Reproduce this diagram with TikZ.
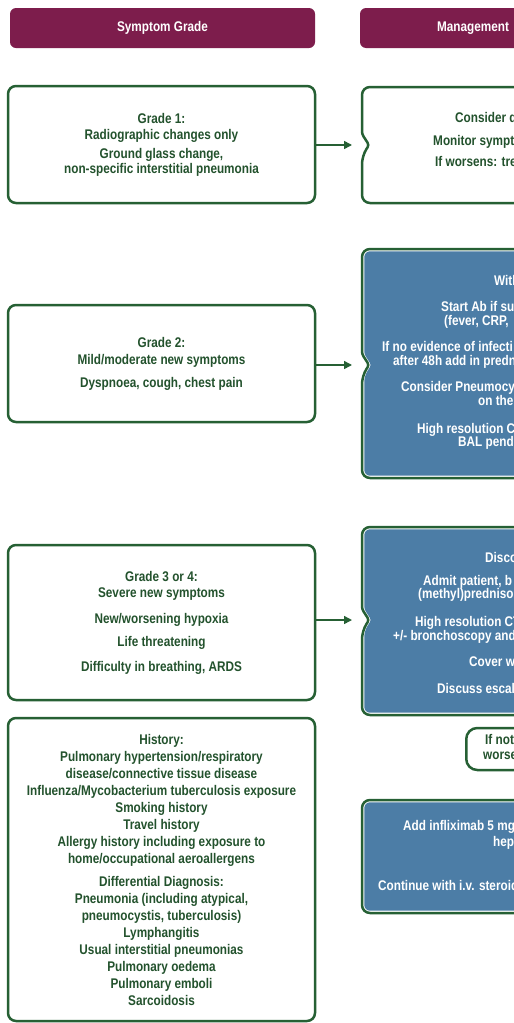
\documentclass[tikz,border=0pt]{standalone}
\usepackage{fontspec}
\newfontfamily\cf{Liberation Sans}[FakeStretch=0.84]
\usetikzlibrary{arrows.meta}
\definecolor{maroon}{RGB}{125,29,76}
\definecolor{dgreen}{RGB}{38,96,52}
\definecolor{mblue}{RGB}{76,125,166}
\definecolor{tgreen}{RGB}{35,82,45}
% notched box: x0 y0 x1 y1 ym inset style
\newcommand\notchpath[7]{%
  \pgfmathsetmacro\rr{8-#6}%
  \path[#7, rounded corners=\rr pt] ({#1+#6},{#5-11}) -- ({#1+#6},{#2+#6}) -- ({#3-#6},{#2+#6}) -- ({#3-#6},{#4-#6}) -- ({#1+#6},{#4-#6}) -- ({#1+#6},{#5+11}) [rounded corners=2.5pt] -- ({#1+#6+7},{#5}) -- cycle;}
% plain rounded box: x0 y0 x1 y1 inset style
\newcommand\roundpath[6]{%
  \pgfmathsetmacro\rr{8-#5}%
  \path[#6, rounded corners=\rr pt] ({#1+#5},{#2+#5}) rectangle ({#3-#5},{#4-#5});}
\tikzset{
  header/.style={fill=maroon, rounded corners=6pt, text=white, minimum height=40pt, inner sep=0pt},
  lbox/.style={draw=dgreen, line width=2.5pt, rounded corners=8pt, fill=white, text=tgreen, align=center, inner sep=0pt},
  wline/.style={draw=dgreen, line width=2.5pt, fill=white},
  bfill/.style={fill=mblue},
  rtxt/.style={anchor=west, inner sep=0pt, text height=10pt, text depth=3pt},
  rtw/.style={rtxt, text=white},
  rtg/.style={rtxt, text=tgreen},
  arr/.style={draw=dgreen, line width=1.5pt, -{Triangle[length=8pt,width=8pt]}}
}
\begin{document}
\begin{tikzpicture}[x=1pt,y=-1pt, font=\cf\bfseries\fontsize{14}{17}\selectfont]
\useasboundingbox (0,0) rectangle (514,1023);
\clip (0,0) rectangle (514,1023);
\fill[white] (0,0) rectangle (514,1023);

% headers
\node[header, minimum width=305pt] (h1) at (162.5,28) {Symptom Grade};
\node[header, minimum width=226pt] (h2) at (473,28) {Management};

% left boxes
\node[lbox, minimum width=307pt, minimum height=117pt] (g1) at (161.5,144.5)
  {Grade 1:\\[-1pt]Radiographic changes only\\[2pt]Ground glass change,\\[-2pt]non-specific interstitial pneumonia};
\node[lbox, minimum width=307pt, minimum height=117pt] (g2) at (161.5,363.5)
  {Grade 2:\\Mild/moderate new symptoms\\[6pt]Dyspnoea, cough, chest pain};
\node[lbox, minimum width=307pt, minimum height=155pt] (g3) at (161.5,622.5)
  {Grade 3 or 4:\\[-1pt]Severe new symptoms\\[9pt]New/worsening hypoxia\\[6pt]Life threatening\\[8pt]Difficulty in breathing, ARDS};
\node[lbox, minimum width=307pt, minimum height=303pt] (hist) at (161.5,869.5)
  {History:\\Pulmonary hypertension/respiratory\\disease/connective tissue disease\\Influenza/Mycobacterium tuberculosis exposure\\Smoking history\\Travel history\\Allergy history including exposure to\\home/occupational aeroallergens\\[6pt]Differential Diagnosis:\\Pneumonia (including atypical,\\pneumocystis, tuberculosis)\\Lymphangitis\\Usual interstitial pneumonias\\Pulmonary oedema\\Pulmonary emboli\\Sarcoidosis};

% right boxes
\notchpath{362}{87}{620}{203}{145}{0}{wline}
\notchpath{362}{249}{620}{478}{365}{0}{wline}
\notchpath{362}{249}{620}{478}{365}{2.3}{bfill}
\notchpath{362}{527}{620}{715}{620}{0}{wline}
\notchpath{362}{527}{620}{715}{620}{2.3}{bfill}
\node[draw=dgreen, line width=2.5pt, rounded corners=11pt, fill=white, minimum width=150pt, minimum height=42pt, anchor=west, inner sep=0pt] (ifnot) at (465,749) {};
\roundpath{362}{800}{620}{913}{0}{wline}
\roundpath{362}{800}{620}{913}{2.3}{bfill}

% anchor points of the notches
\coordinate (m1) at (352,145);
\coordinate (m2) at (352,365);
\coordinate (m3) at (352,620);

% arrows
\draw[arr] (g1.east |- m1) -- (m1);
\draw[arr] (g2.east |- m2) -- (m2);
\draw[arr] (g3.east |- m3) -- (m3);

% right texts
\node[rtg] (m1a) at (455,119) {Consider d};
\node[rtg] (m1b) at (433,142) {Monitor sympt};
\node[rtg] (m1c) at (435,163) {If worsens: tre};

\node[rtw] (m2a) at (494,282) {With};
\node[rtw] (m2b) at (441,308) {Start Ab if su};
\node[rtw] (m2c) at (444,322) {(fever, CRP,};
\node[rtw] (m2d) at (382,348) {If no evidence of infecti};
\node[rtw] (m2e) at (393,362) {after 48h add in predn};
\node[rtw] (m2f) at (401,388) {Consider Pneumocys};
\node[rtw] (m2g) at (478,402) {on the c};
\node[rtw] (m2h) at (417,430) {High resolution CT};
\node[rtw] (m2i) at (458,443) {BAL pendi};

\node[rtw] (m3a) at (485,559) {Disco};
\node[rtw] (m3b) at (423,582) {Admit patient, b};
\node[rtw] (m3c) at (418,595) {(methyl)predniso};
\node[rtw] (m3d) at (415,623) {High resolution CT};
\node[rtw] (m3e) at (393,637) {+/- bronchoscopy and};
\node[rtw] (m3f) at (469,663) {Cover w};
\node[rtw] (m3g) at (437,690) {Discuss escala};

\node[rtg] (ia) at (485,741) {If not};
\node[rtg] (ib) at (483,756) {worsen};

\node[rtw] (m4a) at (403,827) {Add infliximab 5 mg};
\node[rtw] (m4b) at (493,843) {hepa};
\node[rtw] (m4c) at (378,887) {Continue with i.v. steroid};
\end{tikzpicture}
\end{document}
